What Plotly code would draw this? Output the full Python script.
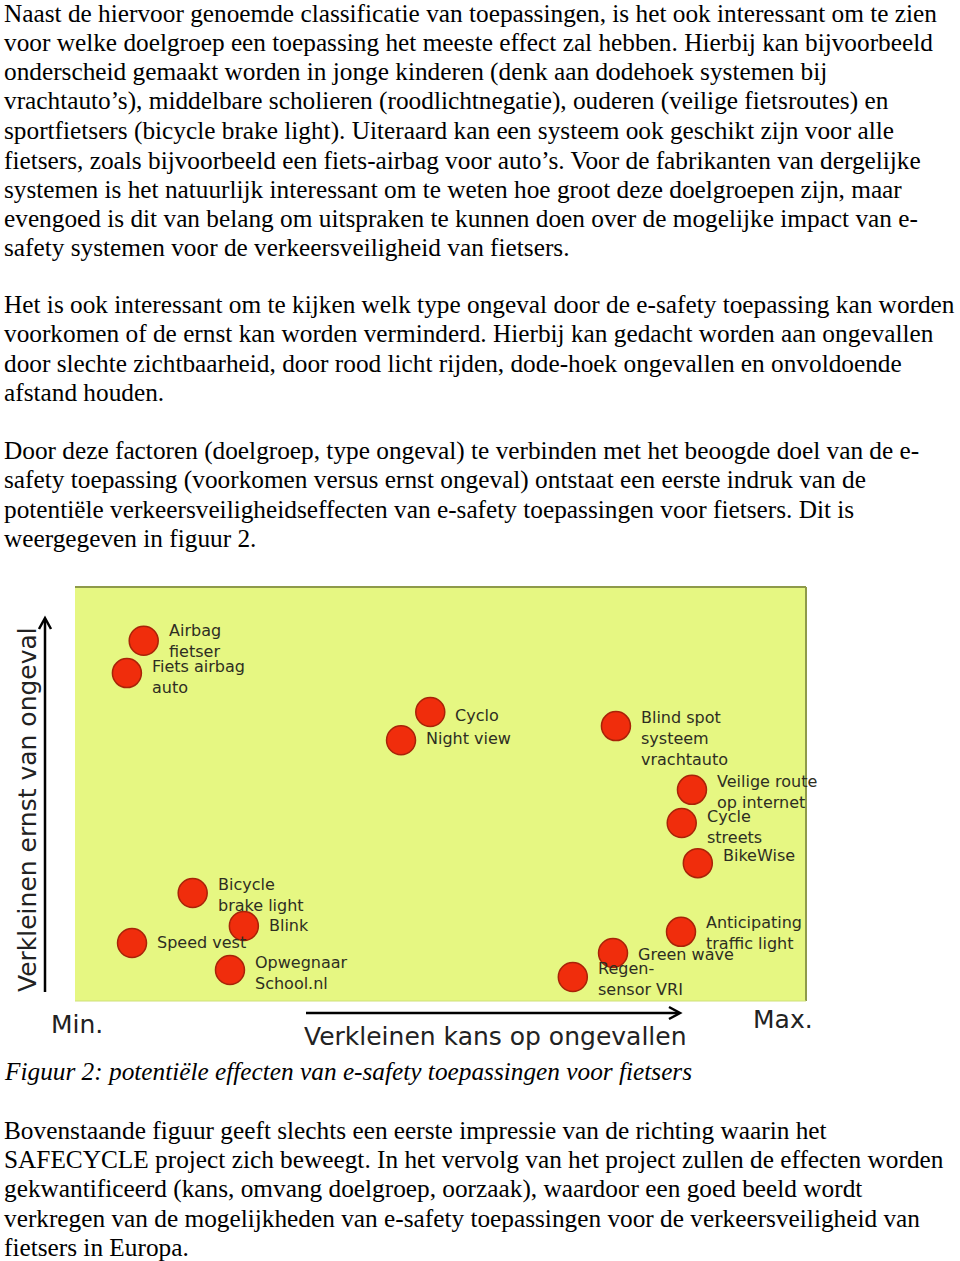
import plotly.graph_objects as go

W, H = 960, 1261

# ---------------- data ----------------
apps = ["Airbag<br>fietser", "Fiets airbag<br>auto", "Cyclo", "Night view",
        "Blind spot<br>systeem<br>vrachtauto", "Veilige route<br>op internet",
        "Cycle<br>streets", "BikeWise", "Bicycle<br>brake light", "Blink",
        "Speed vest", "Opwegnaar<br>School.nl", "Anticipating<br>traffic light",
        "Green wave", "Regen-<br>sensor VRI"]
# x: reduction of accident chance (0..100), y: reduction of severity (0..100)
kans = [9.4, 7.1, 48.6, 44.6, 74.0, 84.4, 83.0, 85.2, 16.1, 23.1, 7.8, 21.2, 82.9, 73.6, 68.1]
ernst = [87.0, 79.2, 69.8, 63.0, 66.4, 51.0, 43.0, 33.3, 26.1, 18.1, 14.0, 7.5, 16.7, 11.6, 5.8]

para1 = [
    "Naast de hiervoor genoemde classificatie van toepassingen, is het ook interessant om te zien",
    "voor welke doelgroep een toepassing het meeste effect zal hebben. Hierbij kan bijvoorbeeld",
    "onderscheid gemaakt worden in jonge kinderen (denk aan dodehoek systemen bij",
    "vrachtauto’s), middelbare scholieren (roodlichtnegatie), ouderen (veilige fietsroutes) en",
    "sportfietsers (bicycle brake light). Uiteraard kan een systeem ook geschikt zijn voor alle",
    "fietsers, zoals bijvoorbeeld een fiets-airbag voor auto’s. Voor de fabrikanten van dergelijke",
    "systemen is het natuurlijk interessant om te weten hoe groot deze doelgroepen zijn, maar",
    "evengoed is dit van belang om uitspraken te kunnen doen over de mogelijke impact van e-",
    "safety systemen voor de verkeersveiligheid van fietsers.",
]
para2 = [
    "Het is ook interessant om te kijken welk type ongeval door de e-safety toepassing kan worden",
    "voorkomen of de ernst kan worden verminderd. Hierbij kan gedacht worden aan ongevallen",
    "door slechte zichtbaarheid, door rood licht rijden, dode-hoek ongevallen en onvoldoende",
    "afstand houden.",
]
para3 = [
    "Door deze factoren (doelgroep, type ongeval) te verbinden met het beoogde doel van de e-",
    "safety toepassing (voorkomen versus ernst ongeval) ontstaat een eerste indruk van de",
    "potentiële verkeersveiligheidseffecten van e-safety toepassingen voor fietsers. Dit is",
    "weergegeven in figuur 2.",
]
caption = "Figuur 2: potentiële effecten van e-safety toepassingen voor fietsers"
para4 = [
    "Bovenstaande figuur geeft slechts een eerste impressie van de richting waarin het",
    "SAFECYCLE project zich beweegt. In het vervolg van het project zullen de effecten worden",
    "gekwantificeerd (kans, omvang doelgroep, oorzaak), waardoor een goed beeld wordt",
    "verkregen van de mogelijkheden van e-safety toepassingen voor de verkeersveiligheid van",
    "fietsers in Europa.",
]
y_title = "Verkleinen ernst van ongeval"
x_title = "Verkleinen kans op ongevallen"
x_min_label = "Min."
x_max_label = "Max."

# ---------------- layout helpers ----------------
def px(x):
    return x / W

def py(y):
    return 1 - y / H

# chart rectangle in page pixels
CL, CR, CT, CB = 75, 806, 587, 1001

label_dy = [0, 4, 3, -2, 12, 2, 4, -8, 2, -1, -1, 3, 1, 2, 2]

fig = go.Figure()
fig.add_trace(go.Scatter(
    x=kans, y=ernst, mode="markers",
    marker=dict(size=29, color="#f02d0c", line=dict(color="#a82308", width=1.5)),
    hoverinfo="skip", showlegend=False,
))

ann = []
label_font = dict(family="DejaVu Sans", size=16, color="#2e2e22")
for name, xv, yv, dy in zip(apps, kans, ernst, label_dy):
    ann.append(dict(x=xv, y=yv, xref="x", yref="y", text=name, showarrow=False,
                    xanchor="left", yanchor="middle", align="left",
                    xshift=23, yshift=-dy, font=label_font))

serif = dict(family="Liberation Serif", size=25.3, color="black")
line_h = 29.3

def add_par(lines, y0):
    for i, t in enumerate(lines):
        ann.append(dict(x=px(3), y=py(y0 + i * line_h), xref="paper", yref="paper",
                        text=t, showarrow=False, xanchor="left", yanchor="middle",
                        borderpad=0, font=serif))

add_par(para1, 13)
add_par(para2, 304)
add_par(para3, 450)
ann.append(dict(x=px(3), y=py(1071), xref="paper", yref="paper", text="<i>" + caption + "</i>",
                showarrow=False, xanchor="left", yanchor="middle", borderpad=0, font=serif))
add_par(para4, 1130)

gothic = dict(family="DejaVu Sans", size=25, color="#222222")
ann.append(dict(x=px(27), y=py(810), xref="paper", yref="paper", text=y_title, textangle=-90,
                showarrow=False, xanchor="center", yanchor="middle", font=gothic))
ann.append(dict(x=px(495), y=py(1036), xref="paper", yref="paper", text=x_title,
                showarrow=False, xanchor="center", yanchor="middle", font=gothic))
ann.append(dict(x=px(49), y=py(1024), xref="paper", yref="paper", text=x_min_label,
                showarrow=False, xanchor="left", yanchor="middle", font=gothic))
ann.append(dict(x=px(751), y=py(1019), xref="paper", yref="paper", text=x_max_label,
                showarrow=False, xanchor="left", yanchor="middle", font=gothic))

shapes = [
    # chart background panel
    dict(type="rect", xref="paper", yref="paper", x0=px(CL), x1=px(CR), y0=py(CB), y1=py(CT),
         fillcolor="#e6f782", line=dict(width=0), layer="below"),
    # darker top and right edges
    dict(type="line", xref="paper", yref="paper", x0=px(CL), x1=px(CR), y0=py(CT), y1=py(CT),
         line=dict(color="#8e9a4a", width=2)),
    dict(type="line", xref="paper", yref="paper", x0=px(CR), x1=px(CR), y0=py(CT), y1=py(CB),
         line=dict(color="#8e9a4a", width=2)),
    dict(type="line", xref="paper", yref="paper", x0=px(CL), x1=px(CR), y0=py(CB), y1=py(CB),
         line=dict(color="#cfe07a", width=1)),
    # vertical arrow
    dict(type="line", xref="paper", yref="paper", x0=px(45), x1=px(45), y0=py(992), y1=py(619),
         line=dict(color="black", width=2.5)),
    dict(type="path", xref="paper", yref="paper",
         path=f"M {px(39)},{py(629)} L {px(45)},{py(618)} L {px(51)},{py(629)}",
         line=dict(color="black", width=2.5)),
    # horizontal arrow
    dict(type="line", xref="paper", yref="paper", x0=px(306), x1=px(679), y0=py(1013), y1=py(1013),
         line=dict(color="black", width=2.5)),
    dict(type="path", xref="paper", yref="paper",
         path=f"M {px(669)},{py(1007)} L {px(680)},{py(1013)} L {px(669)},{py(1019)}",
         line=dict(color="black", width=2.5)),
]

fig.update_layout(
    width=W, height=H,
    margin=dict(l=0, r=0, t=0, b=0),
    paper_bgcolor="white", plot_bgcolor="rgba(0,0,0,0)",
    xaxis=dict(domain=[px(CL), px(CR)], range=[0, 100], visible=False, fixedrange=True),
    yaxis=dict(domain=[py(CB), py(CT)], range=[0, 100], visible=False, fixedrange=True),
    annotations=ann, shapes=shapes, showlegend=False,
)

fig.write_html("out.html", config={"displayModeBar": False},
               post_script="document.body.style.margin='0px';document.body.style.overflow='hidden';")
